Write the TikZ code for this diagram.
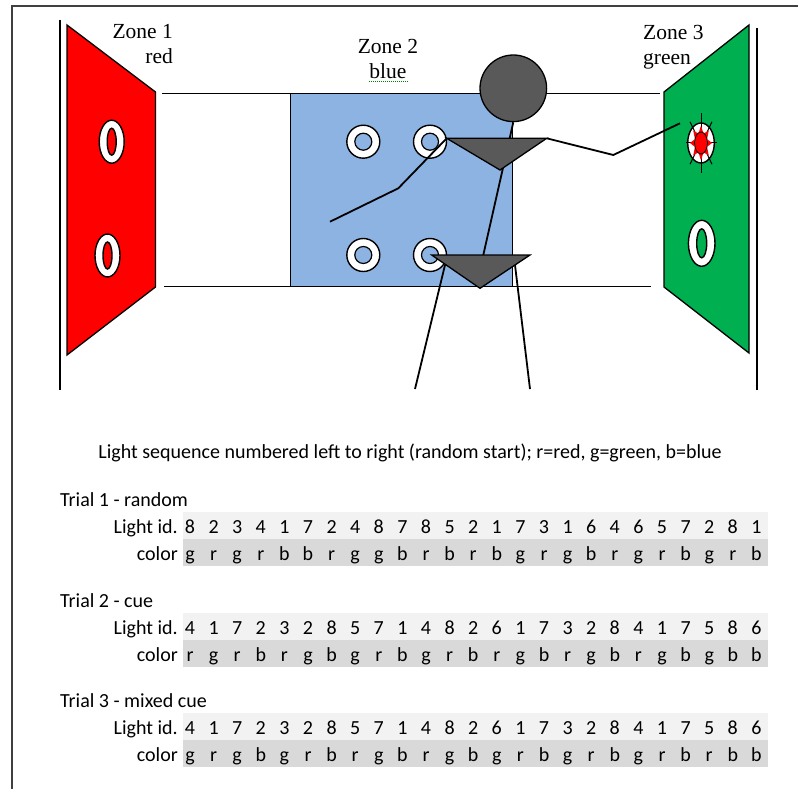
\documentclass[tikz,border=0pt]{standalone}
\usepackage{fontspec}
\setmainfont{Carlito}
\newfontfamily\zonefont{Liberation Serif}
\usepackage{tikz}
\definecolor{zred}{HTML}{FF0000}
\definecolor{zgreen}{HTML}{00B050}
\definecolor{zblue}{HTML}{8DB3E2}
\definecolor{figgray}{HTML}{595959}
\definecolor{rowlight}{HTML}{F2F2F2}
\definecolor{rowdark}{HTML}{D9D9D9}

\begin{document}
\begin{tikzpicture}[x=1pt,y=-1pt,every node/.style={inner sep=0},
  txt/.style={font=\fontsize{20}{24}\selectfont},
  zonelbl/.style={font=\zonefont\fontsize{21.5}{25}\selectfont},
  wall/.style={draw,line width=1.3},
  ring/.style={draw,fill=white,line width=1.4},
  body/.style={draw,fill=figgray,line width=1.3},
  limb/.style={line width=1.8},
  cell/.style={txt,anchor=base},
  rowlbl/.style={txt,anchor=base east}]
\useasboundingbox (0,0) rectangle (798,789);

\draw[line width=1.2,black!75] (12,789) -- (12,6) -- (798,6);

% room
\draw[line width=2] (60,20) -- (60,390);
\draw[line width=2] (757,28) -- (757,390);
\draw[line width=1.5] (162,93.3) -- (660,93.3);
\draw[line width=1.5] (164,286.7) -- (651,286.7);

% zone 1
\draw[wall,fill=zred] (67,25) -- (155.5,92) -- (155.5,287) -- (67,355) -- cycle;
\foreach \p in {(111.7,141.7),(107.5,255.5)} {
  \draw[ring] \p ellipse[x radius=12.5pt,y radius=21.5pt];
  \draw[line width=1.4,fill=zred] \p ellipse[x radius=4.5pt,y radius=13.5pt];
}

% zone 2
\draw[wall,fill=zblue] (290.7,93.3) rectangle (512.7,286.7);
\foreach \p in {(363.3,141.7),(430,141.7),(363.3,255),(430,255)} {
  \draw[ring] \p circle[radius=16.5pt];
  \draw[line width=1.2,fill=zblue] \p circle[radius=8.5pt];
}

% zone 3
\draw[wall,fill=zgreen] (749,25) -- (749,353) -- (664,287) -- (664,92) -- cycle;
\draw[ring] (701.7,243.3) ellipse[x radius=13.3pt,y radius=23pt];
\draw[line width=1.4,fill=zgreen] (701.7,243.3) ellipse[x radius=5pt,y radius=14.5pt];
\coordinate (lit) at (701,143);
\draw[ring] (lit) ellipse[x radius=13.3pt,y radius=20pt];
\foreach \a in {0,45,...,315} {
  \draw[line width=1] ({701+6*cos(\a)},{143+10*sin(\a)}) -- ({701+15.5*cos(\a)},{143+30*sin(\a)});
  \fill[zred] ({701+7*cos(\a-18)},{143+11*sin(\a-18)}) -- ({701+11*cos(\a)},{143+17.5*sin(\a)})
    -- ({701+7*cos(\a+18)},{143+11*sin(\a+18)}) -- cycle;
}
\draw[line width=0.8,fill=zred] (lit) ellipse[x radius=6.5pt,y radius=11pt];

\node[zonelbl,align=right,anchor=east] (z1) at (173,44) {Zone 1\\red};
\node[zonelbl,align=center] (z2) at (388,59) {Zone 2\\blue};
\node[zonelbl,align=left,anchor=west] (z3) at (643,47.5) {Zone 3\\green};
\draw[green!50!black,densely dotted,line width=1] (369,81.5) -- (408,81.5);

% stick figure
\coordinate (shl) at (446.7,138.3);
\coordinate (shr) at (546.7,138.3);
\coordinate (waist) at (500,170);
\coordinate (hipl) at (431.7,255);
\coordinate (hipr) at (530,255);
\coordinate (hipc) at (483.3,255);
\coordinate (crotch) at (480,288.3);
\coordinate (elbl) at (398.3,188.3);
\coordinate (handl) at (330,221.7);
\coordinate (elbr) at (613.3,155);
\coordinate (handr) at (680,123.3);
\coordinate (footl) at (415,389);
\coordinate (footr) at (530,389);

\node[circle,body,minimum size=66.6pt] (head) at (513.3,88.3) {};
\draw[limb] (445,265) -- (footl);
\draw[limb] (515,265) -- (footr);
\draw[limb] (head.south) -- (hipc);
\draw[body] (hipl) -- (hipr) -- (crotch) -- cycle;
\draw[body] (shl) -- (shr) -- (waist) -- cycle;
\draw[limb] (shl) -- (elbl) -- (handl);
\draw[limb] (shr) -- (elbr) -- (handr);

\node[txt,anchor=base] (cap) at (410,458)
  {Light sequence numbered left to right (random start); r=red, g=green, b=blue};

% trial 1
\fill[rowlight] (183,512) rectangle (768,539);
\fill[rowdark] (183,539) rectangle (768,566);
\node[txt,anchor=base west] (t1) at (60,506) {Trial 1 - random};
\node[rowlbl] (id1) at (178,533) {Light id.};
\node[rowlbl] (col1) at (178,560) {color};
\foreach \d/\c [count=\i] in {8/g,2/r,3/g,4/r,1/b,7/b,2/r,4/g,8/g,7/b,8/r,5/b,2/r,
    1/b,7/g,3/r,1/g,6/b,4/r,6/g,5/r,7/b,2/g,8/r,1/b} {
  \node[cell] (id1-\i) at ({190+23.6*(\i-1)},533) {\d};
  \node[cell] (col1-\i) at ({190+23.6*(\i-1)},560) {\c};
}

% trial 2
\fill[rowlight] (183,613) rectangle (768,640);
\fill[rowdark] (183,640) rectangle (768,667);
\node[txt,anchor=base west] (t2) at (60,607) {Trial 2 - cue};
\node[rowlbl] (id2) at (178,634) {Light id.};
\node[rowlbl] (col2) at (178,661) {color};
\foreach \d/\c [count=\i] in {4/r,1/g,7/r,2/b,3/r,2/g,8/b,5/g,7/r,1/b,4/g,8/r,2/b,
    6/r,1/g,7/b,3/r,2/g,8/b,4/r,1/g,7/b,5/g,8/b,6/b} {
  \node[cell] (id2-\i) at ({190+23.6*(\i-1)},634) {\d};
  \node[cell] (col2-\i) at ({190+23.6*(\i-1)},661) {\c};
}

% trial 3
\fill[rowlight] (183,713) rectangle (768,740);
\fill[rowdark] (183,740) rectangle (768,767);
\node[txt,anchor=base west] (t3) at (60,707) {Trial 3 - mixed cue};
\node[rowlbl] (id3) at (178,734) {Light id.};
\node[rowlbl] (col3) at (178,761) {color};
\foreach \d/\c [count=\i] in {4/g,1/r,7/g,2/b,3/g,2/r,8/b,5/r,7/g,1/b,4/r,8/g,2/b,
    6/g,1/r,7/b,3/g,2/r,8/b,4/g,1/r,7/b,5/r,8/b,6/b} {
  \node[cell] (id3-\i) at ({190+23.6*(\i-1)},734) {\d};
  \node[cell] (col3-\i) at ({190+23.6*(\i-1)},761) {\c};
}
\end{tikzpicture}
\end{document}
